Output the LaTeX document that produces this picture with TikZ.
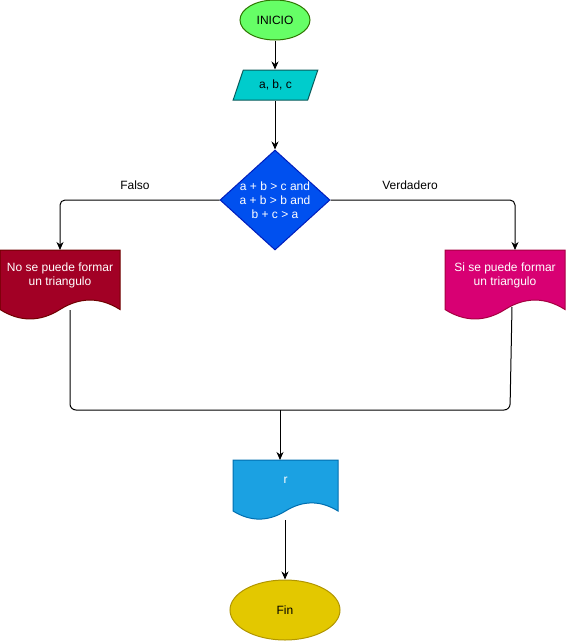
\documentclass[tikz,border=0pt]{standalone}
\usepackage{fontspec}
\setmainfont{Liberation Sans}
\usetikzlibrary{shapes.geometric,arrows.meta}

\definecolor{startfill}{HTML}{66FF66}
\definecolor{startline}{HTML}{2D7600}
\definecolor{iofill}{HTML}{00CCCC}
\definecolor{ioline}{HTML}{0A5C5C}
\definecolor{decfill}{HTML}{0050EF}
\definecolor{decline}{HTML}{001DBC}
\definecolor{nofill}{HTML}{A20025}
\definecolor{noline}{HTML}{6F0000}
\definecolor{sifill}{HTML}{D80073}
\definecolor{siline}{HTML}{A50040}
\definecolor{outfill}{HTML}{1BA1E2}
\definecolor{outline}{HTML}{006EAF}
\definecolor{endfill}{HTML}{E3C800}
\definecolor{endline}{HTML}{B09500}

% document outline with a wavy lower edge: left x, top y, width, height, style
\newcommand\wavedoc[5]{%
  \path[#5] (#1,#2) -- ({#1+#3},#2) -- ({#1+#3},{#2+0.85*#4})
    .. controls ({#1+0.8333*#3},{#2+0.67*#4}) and ({#1+0.6667*#3},{#2+0.67*#4}) .. ({#1+0.5*#3},{#2+0.85*#4})
    .. controls ({#1+0.3333*#3},{#2+1.03*#4}) and ({#1+0.1667*#3},{#2+1.03*#4}) .. (#1,{#2+0.85*#4}) -- cycle;}

\tikzset{
  every node/.style={font=\fontsize{12}{14}\selectfont, inner sep=0pt},
  shapeline/.style={line width=1pt},
  terminal/.style={ellipse, draw, shapeline},
  arr/.style={line width=1pt, -{Stealth[length=8pt,width=7pt,inset=2.5pt]}},
  link/.style={line width=1pt},
  docbox/.style={rectangle, minimum width=#1, anchor=north},
  doctext/.style={text=white, align=center},
}

\begin{document}
\begin{tikzpicture}[x=1pt, y=-1pt]
\useasboundingbox (0,0) rectangle (566,641);

% start and input
\node[terminal, fill=startfill, draw=startline, minimum width=70, minimum height=40] (ini) at (275,20) {INICIO};
\node[trapezium, trapezium left angle=63.4, trapezium right angle=116.6, trapezium stretches=true,
      minimum width=85, minimum height=30, fill=iofill, draw=ioline, shapeline] (par) at (275.5,85) {a, b, c};

% condition
\node[diamond, minimum width=110, minimum height=100, fill=decfill, draw=decline, shapeline,
      label={[text=white, align=center]center:{a + b > c and\\a + b > b and\\b + c > a}}] (dec) at (275,200) {};

% result documents
\wavedoc{0}{250}{120}{70}{fill=nofill, draw=noline, shapeline}
\node[docbox=120, minimum height=70,
      label={[doctext, yshift=9.5pt]center:{No se puede formar\\un triangulo}}] (ld) at (60,250) {};
\wavedoc{445}{250}{120}{70}{fill=sifill, draw=siline, shapeline}
\node[docbox=120, minimum height=70,
      label={[doctext, yshift=9.5pt]center:{Si se puede formar\\un triangulo}}] (rd) at (505,250) {};
\wavedoc{233}{460}{105}{60}{fill=outfill, draw=outline, shapeline}
\node[docbox=105, minimum height=60,
      label={[doctext, yshift=10pt]center:r}] (r) at (285.5,460) {};

% end
\node[terminal, fill=endfill, draw=endline, minimum width=110, minimum height=60] (fin) at (285,610) {Fin};

% branch labels
\node (falso) at (135,185) {Falso};
\node (verd) at (410,185) {Verdadero};

% flow
\draw[arr] (ini.south) -- (ini.south |- par.north);
\draw[arr] (par.south -| dec.north) -- (dec.north);
\draw[arr, rounded corners=5] (dec.west) -| (ld.north);
\draw[arr, rounded corners=5] (dec.east) -| ([xshift=10pt]rd.north);

% merge of both results
\coordinate (ldout) at (70,310);
\coordinate (lcorner) at (70,410);
\coordinate (rcorner) at (510,410);
\coordinate (rdout) at (512,307);
\coordinate (merge) at (280,410);
\draw[link, rounded corners=6] (ldout) -- (lcorner) -- (rcorner) -- (rdout);
\draw[arr] (merge) -- (merge |- r.north);
\draw[arr] (fin.north |- r.south) -- (fin.north);
\end{tikzpicture}
\end{document}
